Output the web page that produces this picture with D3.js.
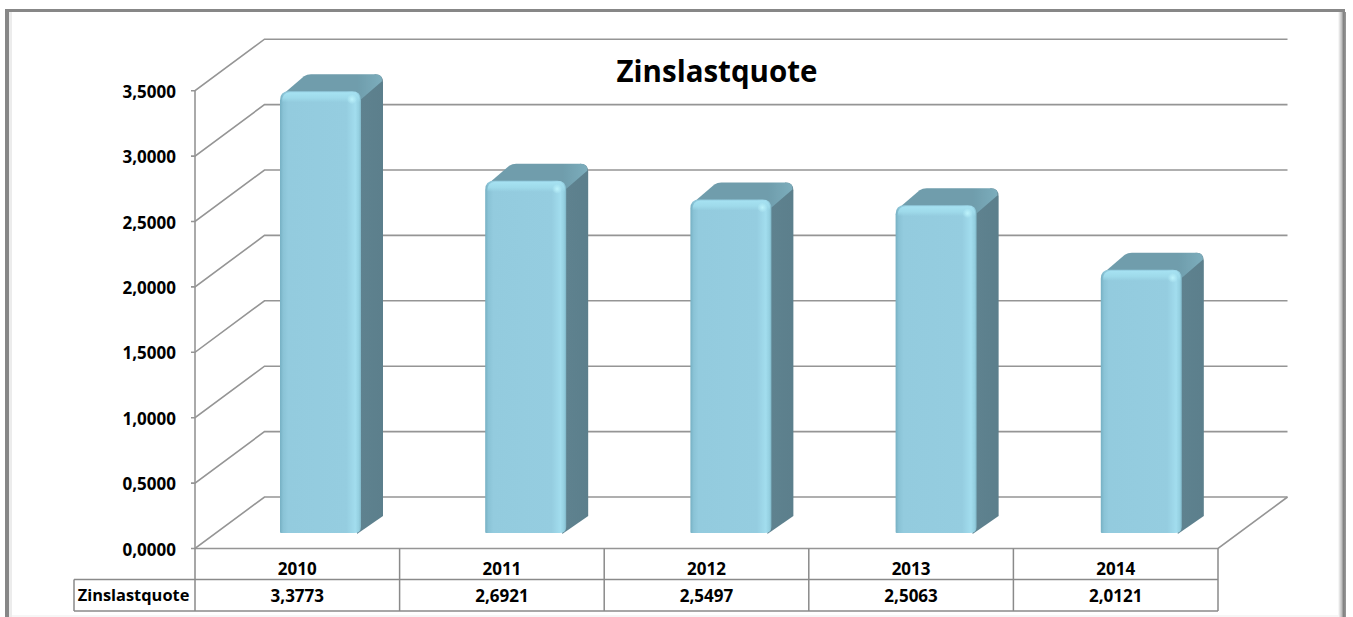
<!DOCTYPE html>
<html><head><meta charset="utf-8">
<script src="https://cdn.jsdelivr.net/npm/d3@7"></script>
<style>html,body{margin:0;padding:0;background:#fff;overflow:hidden}svg{display:block}text{font-family:"Open Sans",sans-serif;font-weight:700;fill:#000}</style>
</head><body><svg id="c" width="1353" height="617"></svg>
<script>
const categories=["2010","2011","2012","2013","2014"];
const values=[3.3773,2.6921,2.5497,2.5063,2.0121];
const valueLabels=["3,3773","2,6921","2,5497","2,5063","2,0121"];
const tickValues=[0,0.5,1,1.5,2,2.5,3,3.5];
const seriesName="Zinslastquote";
const chartTitle="Zinslastquote";

const svg=d3.select("#c");
const defs=svg.append("defs");
const x=d3.scaleBand().domain(categories).range([195,1218]);
const barX=d3.scaleBand().domain(categories).range([280,1306]);
const y=d3.scaleLinear().domain([0,3.5]).range([548.5,90.7]);
const wall={dx:69.5,dy:-51.5};
const bar={w:81,base:-15.5,dx:22,dy:-17,r:9};
const fmt=v=>d3.format(".4f")(v).replace(".",",");

const lg=(id,dir,stops)=>{const g=defs.append("linearGradient").attr("id",id)
  .attr("x1",0).attr("y1",0).attr("x2",dir=="h"?1:0).attr("y2",dir=="h"?0:1);
  stops.forEach(s=>g.append("stop").attr("offset",s[0]).attr("stop-color",s[1]).attr("stop-opacity",s[2]==null?1:s[2]));};
lg("front","h",[[0,"#76b0c3"],[0.04,"#8ac3d6"],[0.1,"#93cbde"],[0.82,"#95cde0"],[0.93,"#a2ddee"],[0.975,"#94cfe0"],[1,"#7fb6c7"]]);
lg("frontTop","v",[[0,"#a6e2f2",1],[0.55,"#a0dcec",0.9],[1,"#a0dcec",0]]);
lg("side","h",[[0,"#6a94a3"],[0.25,"#5e828f"],[1,"#5c7f8c"]]);
lg("topFace","h",[[0,"#6f9dac"],[0.75,"#6f9dac"],[1,"#7cadbc"]]);
lg("frameR","h",[[0,"#fff"],[0.45,"#c0c0c0"],[0.7,"#808080"],[1,"#9a9a9a"]]);
const rg=defs.append("radialGradient").attr("id","spot");
rg.append("stop").attr("offset",0).attr("stop-color","#bdf3fc").attr("stop-opacity",1);
rg.append("stop").attr("offset",1).attr("stop-color","#bdf3fc").attr("stop-opacity",0);
defs.append("filter").attr("id","soft").append("feGaussianBlur").attr("stdDeviation",0.45);

// frame
const frame=svg.append("g");
frame.append("rect").attr("x",9).attr("y",12).attr("width",3).attr("height",605).attr("fill","#ececec");
frame.append("rect").attr("x",5).attr("y",9).attr("width",4).attr("height",608).attr("fill","#878787");
frame.append("rect").attr("x",5).attr("y",9).attr("width",1340).attr("height",3).attr("fill","#878787");
frame.append("rect").attr("x",1338).attr("y",12).attr("width",8).attr("height",605).attr("fill","url(#frameR)");
frame.append("rect").attr("x",12).attr("y",615).attr("width",1326).attr("height",2).attr("fill","#f6f6f6");

// grid
const grid=svg.append("g").attr("filter","url(#soft)").attr("stroke","#959595").attr("stroke-width",1.6).attr("fill","none");
const right=x.range()[1], left=x.range()[0];
tickValues.forEach(t=>{
  grid.append("path").attr("d",d3.line()([[left-4,y(t)],[left,y(t)],[left+wall.dx,y(t)+wall.dy],[right+wall.dx,y(t)+wall.dy]]));
});
grid.append("line").attr("x1",left).attr("x2",left).attr("y1",y(3.5)).attr("y2",y(0));
grid.append("path").attr("d",d3.line()([[left,y(0)],[right,y(0)],[right+wall.dx,y(0)+wall.dy]]));

// tick labels
svg.append("g").selectAll("text").data(tickValues).join("text")
 .attr("x",176).attr("y",t=>y(t)+7).attr("text-anchor","end").attr("font-size",17).text(fmt);

// bars
const bars=svg.append("g").selectAll("g").data(categories.map((c,i)=>({c,v:values[i]}))).join("g").attr("filter","url(#soft)");
const bx=d=>barX(d.c), bt=d=>y(d.v)+bar.base, bb=()=>y(0)+bar.base;
// back silhouette: side face
bars.append("path").attr("fill","url(#side)").attr("d",d=>{
  const l=bx(d),r=l+bar.w,t=bt(d),b=bb(),X=r+bar.dx,T=t+bar.dy;
  return `M${r-8},${t+1}L${X-8},${T}Q${X},${T} ${X},${T+8}L${X},${b+bar.dy}L${r-4},${b+1}Z`;});
// top face
bars.append("path").attr("fill","url(#topFace)").attr("d",d=>{
  const l=bx(d),r=l+bar.w,t=bt(d),X=r+bar.dx,T=t+bar.dy;
  return `M${l+3},${t+3}L${l+bar.dx+2},${T+2}Q${l+bar.dx+5},${T} ${l+bar.dx+9},${T}L${X-8},${T}Q${X},${T} ${X-1},${T+7}L${r-1},${t+9}Z`;});
// front face
bars.append("path").attr("fill","url(#front)").attr("d",d=>{
  const l=bx(d),r=l+bar.w,t=bt(d),b=bb(),R=bar.r;
  return `M${l},${t+R}Q${l},${t} ${l+R},${t}L${r-R},${t}Q${r},${t} ${r},${t+R}L${r},${b-6}Q${r},${b} ${r-7},${b}L${l+1},${b}Q${l},${b} ${l},${b-1}Z`;});
// top highlight
bars.append("path").attr("fill","url(#frontTop)").attr("d",d=>{
  const l=bx(d),r=l+bar.w,t=bt(d);
  return `M${l+2},${t+11}Q${l+2},${t+1} ${l+10},${t+1}L${r-9},${t+1}Q${r-1},${t+1} ${r-1},${t+11}Z`;});
bars.append("ellipse").attr("cx",d=>bx(d)+bar.w-9).attr("cy",d=>bt(d)+8).attr("rx",5).attr("ry",5).attr("fill","url(#spot)");

// data table
const rowY=[y(0),579.5,611], tableLeft=74;
const table=svg.append("g").attr("filter","url(#soft)").attr("stroke","#8a8a8a").attr("stroke-width",1.5).attr("fill","none");
[...categories.map(c=>x(c)),right].forEach(v=>table.append("line").attr("x1",v).attr("x2",v).attr("y1",rowY[0]).attr("y2",rowY[2]));
table.append("line").attr("x1",tableLeft).attr("x2",right).attr("y1",rowY[1]).attr("y2",rowY[1]);
table.append("line").attr("x1",tableLeft).attr("x2",right).attr("y1",rowY[2]).attr("y2",rowY[2]);
table.append("line").attr("x1",tableLeft).attr("x2",tableLeft).attr("y1",rowY[1]).attr("y2",rowY[2]);

svg.append("g").selectAll("text").data(categories).join("text").attr("x",c=>x(c)+x.bandwidth()/2).attr("y",575)
 .attr("text-anchor","middle").attr("font-size",17).text(c=>c);
svg.append("g").selectAll("text").data(valueLabels).join("text").attr("x",(d,i)=>x(categories[i])+x.bandwidth()/2).attr("y",602)
 .attr("text-anchor","middle").attr("font-size",17).text(d=>d);
svg.append("text").attr("x",133.5).attr("y",601).attr("text-anchor","middle").attr("font-size",16.4).text(seriesName);
svg.append("text").attr("x",717).attr("y",81.5).attr("text-anchor","middle").attr("font-size",29.5).text(chartTitle);
</script></body></html>
